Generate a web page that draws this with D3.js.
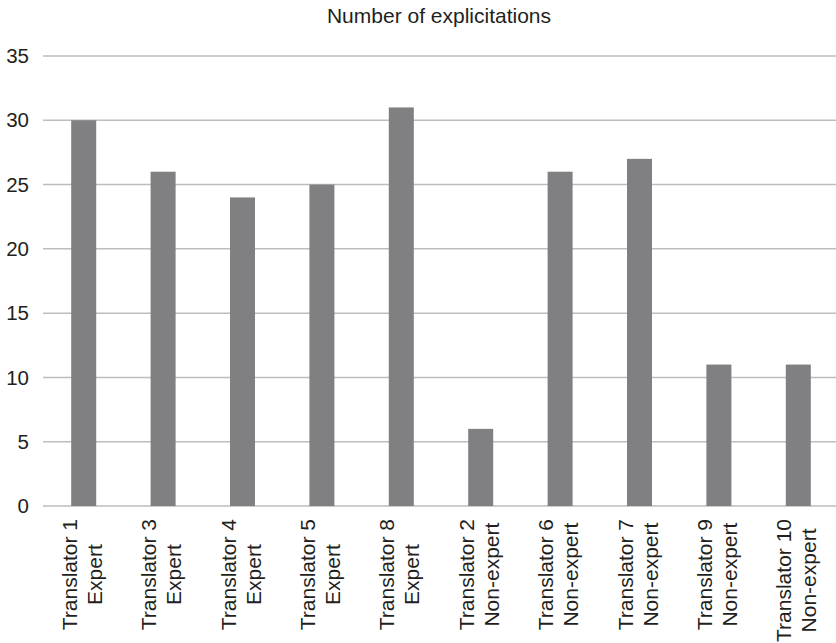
<!DOCTYPE html>
<html>
<head>
<meta charset="utf-8">
<script src="https://cdn.jsdelivr.net/npm/d3@7"></script>
<style>
  body { margin: 0; background: #fff; }
  svg { display: block; }
  text { font-family: "Liberation Sans", Arial, sans-serif; fill: #231f20; }
</style>
</head>
<body>
<svg id="viz_area" width="836" height="643"></svg>
<script>
// data
const translators = ["Translator 1", "Translator 3", "Translator 4", "Translator 5", "Translator 8",
                     "Translator 2", "Translator 6", "Translator 7", "Translator 9", "Translator 10"];
const groups = ["Expert", "Expert", "Expert", "Expert", "Expert",
                "Non-expert", "Non-expert", "Non-expert", "Non-expert", "Non-expert"];
const explicitations = [30, 26, 24, 25, 31, 6, 26, 27, 11, 11];
const yTicks = [0, 5, 10, 15, 20, 25, 30, 35];
const title = "Number of explicitations";

const svg = d3.select("#viz_area");
const width = 836;

// x axis
const x = d3.scaleBand()
    .domain(translators)
    .range([44, 838])
    .paddingInner(0.685)
    .paddingOuter(0.3425);

// y axis
const y = d3.scaleLinear()
    .domain([0, 35])
    .range([506, 56]);

// gridlines
svg.append("g")
    .selectAll("line")
    .data(yTicks)
    .enter()
    .append("line")
    .attr("x1", 43)
    .attr("x2", width)
    .attr("y1", d => y(d))
    .attr("y2", d => y(d))
    .attr("stroke", "#bdbdbf")
    .attr("stroke-width", 1.5);

// tick labels
svg.append("g")
    .selectAll("text")
    .data(yTicks)
    .enter()
    .append("text")
    .attr("x", 29)
    .attr("y", d => y(d))
    .attr("dy", "0.35em")
    .attr("text-anchor", "end")
    .style("font-size", "20.5px")
    .text(d => d);

// bars
svg.append("g")
    .selectAll("rect")
    .data(explicitations)
    .enter()
    .append("rect")
    .attr("x", (d, i) => x(translators[i]))
    .attr("y", d => y(d))
    .attr("width", x.bandwidth())
    .attr("height", d => y(0) - y(d))
    .attr("fill", "#808083");

// title
svg.append("text")
    .attr("x", 439)
    .attr("y", 23)
    .attr("text-anchor", "middle")
    .style("font-size", "21px")
    .text(title);

// category labels, two lines rotated, block starts just under the axis
const lab = svg.append("g")
    .selectAll("g")
    .data(translators)
    .enter()
    .append("g");

lab.each(function(name, i) {
    const g = d3.select(this);
    const cx = x(name) + x.bandwidth() / 2;
    const lines = [name, groups[i]];
    const texts = lines.map((t, k) => g.append("text")
        .style("font-size", "21px")
        .attr("text-anchor", "middle")
        .text(t));
    const maxLen = Math.max(...texts.map(t => t.node().getComputedTextLength()));
    const cy = 519 + maxLen / 2;
    texts.forEach((t, k) => {
        const bx = cx - 7 + k * 25;
        t.attr("transform", "translate(" + bx + "," + cy + ") rotate(-90)");
    });
});
</script>
</body>
</html>
